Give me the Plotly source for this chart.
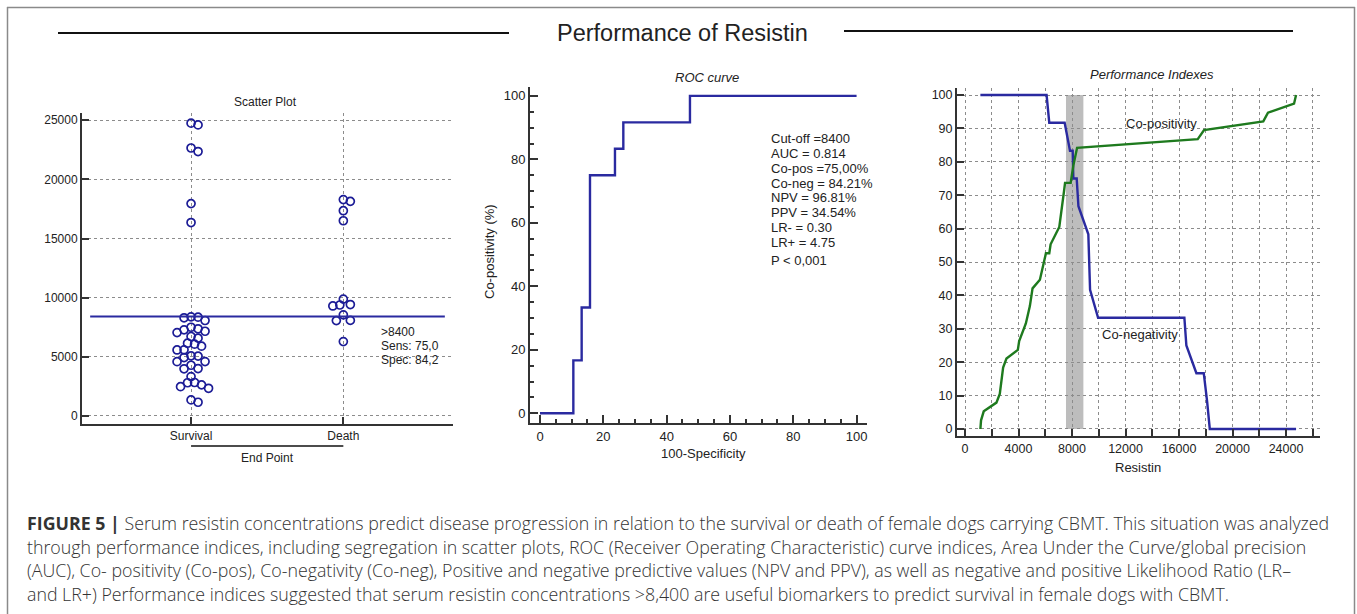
import plotly.graph_objects as go

W, H = 1357, 614

# ---------------- data ----------------
scatter_groups = ["Survival", "Death"]
survival_values = [24750, 24600, 22650, 22350, 17950, 16350,
                   8380, 8350, 8300, 8070, 7500, 7370, 7280, 7160, 7050,
                   6720, 6580, 6150, 6070, 5900, 5590, 5580, 5080, 5060,
                   4940, 4600, 4590, 4290, 4010, 3990, 3330, 2830, 2810,
                   2630, 2480, 2340, 1360, 1160]
death_values = [18290, 18140, 17350, 16500, 9880, 9420, 9380, 9300,
                8550, 8080, 8060, 6290]
cutoff = 8400
scatter_ticks = [0, 5000, 10000, 15000, 20000, 25000]
scatter_note = [">8400", "Sens: 75,0", "Spec: 84,2"]

roc_fpr = [0, 10.53, 13.16, 15.79, 23.68, 26.32, 47.37, 100]
roc_tpr = [0, 16.67, 33.33, 75.0, 83.33, 91.67, 100, 100]
roc_stats = ["Cut-off =8400", "AUC = 0.814", "Co-pos =75,00%", "Co-neg = 84.21%",
             "NPV = 96.81%", "PPV = 34.54%", "LR- = 0.30", "LR+ = 4.75", "P < 0,001"]

coneg_x = [1150, 6100, 6300, 7450, 7850, 8050, 8100, 8350, 8480, 9220, 9350,
           9950, 16400, 16550, 17300, 17850, 18100, 18300, 24750]
coneg_y = [100, 100, 91.7, 91.7, 83.3, 83.3, 75, 75, 66.7, 58.3, 41.7,
           33.3, 33.3, 25, 16.7, 16.7, 8.3, 0, 0]
copos_x = [1150, 1200, 1400, 2350, 2600, 2850, 3100, 3950, 4050, 4550, 4850,
           5050, 5600, 6050, 6300, 6400, 7050, 7250, 7400, 7480, 7900, 8100,
           8380, 17400, 17870, 22300, 22650, 24600, 24750]
copos_y = [0, 2.6, 5.3, 7.9, 10.5, 18.4, 21.1, 23.7, 26.3, 31.6, 36.8,
           42.1, 44.7, 52.6, 52.6, 55.3, 60.5, 65.8, 71.1, 73.7, 73.7, 78.9,
           84.2, 86.8, 89.5, 92.1, 94.7, 97.4, 100]
cutoff_band = [7550, 8850]

caption_lines = [
    "<b>FIGURE 5 |</b> Serum resistin concentrations predict disease progression in relation to the survival or death of female dogs carrying CBMT. This situation was analyzed",
    "through performance indices, including segregation in scatter plots, ROC (Receiver Operating Characteristic) curve indices, Area Under the Curve/global precision",
    "(AUC), Co- positivity (Co-pos), Co-negativity (Co-neg), Positive and negative predictive values (NPV and PPV), as well as negative and positive Likelihood Ratio (LR–",
    "and LR+) Performance indices suggested that serum resistin concentrations >8,400 are useful biomarkers to predict survival in female dogs with CBMT.",
]

# ---------------- helpers ----------------
def px(x):
    return x / W

def py(y):
    return 1 - y / H

FONT = "Liberation Sans, Arial, sans-serif"
CAPFONT = "Open Sans, Liberation Sans, Arial, sans-serif"
AX = "#333333"
GRID = "#8c8c8c"
BLUE = "#2a2aa0"
GREEN = "#1e7a1e"
MARK = "#1c1c96"

# scatter geometry (for beeswarm spacing)
SC_X0, SC_X1 = 82, 453
SC_Y0, SC_Y1 = 424, 112.5
SC_XR = [-0.716, 1.72]
SC_YR = [-677, 25650]
px_per_x = (SC_X1 - SC_X0) / (SC_XR[1] - SC_XR[0])
px_per_y = (SC_Y0 - SC_Y1) / (SC_YR[1] - SC_YR[0])


def beeswarm(values, center, step=3.5, diam=6.8):
    order = sorted(range(len(values)), key=lambda i: -values[i])
    placed = []
    xs = [0.0] * len(values)
    cands = [0]
    for k in range(1, 12):
        cands += [k, -k]
    for i in order:
        yv = values[i] * px_per_y
        for k in cands:
            xv = k * step
            if all((xv - a) ** 2 + (yv - b) ** 2 >= diam ** 2 for a, b in placed):
                break
        placed.append((xv, yv))
        xs[i] = center + xv / px_per_x
    return xs


fig = go.Figure()

# ---------------- scatter plot ----------------
for vals, c in ((survival_values, 0), (death_values, 1)):
    fig.add_trace(go.Scatter(
        x=beeswarm(vals, c), y=vals, mode="markers",
        marker=dict(symbol="circle-open", size=8, color=MARK, line=dict(width=1.7, color=MARK)),
        xaxis="x", yaxis="y", showlegend=False, hoverinfo="skip"))

# ---------------- ROC ----------------
fig.add_trace(go.Scatter(
    x=roc_fpr, y=roc_tpr, mode="lines", line=dict(color=BLUE, width=2.4, shape="hv"),
    xaxis="x2", yaxis="y2", showlegend=False, hoverinfo="skip"))

# ---------------- performance indexes ----------------
fig.add_trace(go.Scatter(
    x=coneg_x, y=coneg_y, mode="lines", line=dict(color=BLUE, width=2.4),
    xaxis="x3", yaxis="y3", showlegend=False, hoverinfo="skip"))
fig.add_trace(go.Scatter(
    x=copos_x, y=copos_y, mode="lines", line=dict(color=GREEN, width=2.4),
    xaxis="x3", yaxis="y3", showlegend=False, hoverinfo="skip"))

axis_common = dict(showline=True, linecolor=AX, linewidth=2, ticks="inside",
                   tickcolor=AX, tickwidth=2, zeroline=False, mirror=False,
                   tickformat="d")

def tf(size):
    return dict(family=FONT, size=size, color="#222")

fig.update_layout(
    width=W, height=H, margin=dict(l=0, r=0, t=0, b=0),
    paper_bgcolor="white", plot_bgcolor="white",
    xaxis=dict(domain=[px(SC_X0), px(SC_X1)], range=SC_XR, tickvals=[0, 1],
               ticktext=scatter_groups, ticklen=7, showgrid=True, gridcolor=GRID,
               griddash="dot", gridwidth=1, anchor="y", tickfont=tf(12), **axis_common),
    yaxis=dict(domain=[py(SC_Y0), py(SC_Y1)], range=SC_YR, tickvals=scatter_ticks,
               ticklen=7, showgrid=True, gridcolor=GRID, griddash="dot", gridwidth=1,
               anchor="x", tickfont=tf(12), **axis_common),
    xaxis2=dict(domain=[px(530), px(866.7)], range=[-3.16, 103.2], dtick=20, tick0=0,
                ticklen=8, showgrid=False, anchor="y2", tickfont=tf(13),
                minor=dict(dtick=5, ticks="inside", ticklen=4, tickcolor=AX, tickwidth=1.5),
                **axis_common),
    yaxis2=dict(domain=[py(423.3), py(86.7)], range=[-3.15, 102.9], dtick=20, tick0=0,
                ticklen=8, showgrid=False, anchor="x2", tickfont=tf(13),
                minor=dict(dtick=5, ticks="inside", ticklen=4, tickcolor=AX, tickwidth=1.5),
                **axis_common),
    xaxis3=dict(domain=[px(957), px(1320)], range=[-598, 26540], dtick=4000, tick0=0,
                ticklen=7, showgrid=True, gridcolor=GRID, griddash="dot", gridwidth=1,
                anchor="y3", tickfont=tf(12.5),
                minor=dict(dtick=2000, ticks="inside", ticklen=7, tickcolor=AX, tickwidth=2,
                           showgrid=True, gridcolor=GRID, griddash="dot", gridwidth=1),
                **axis_common),
    yaxis3=dict(domain=[py(436), py(88)], range=[-2.1, 102.1], dtick=10, tick0=0,
                ticklen=7, showgrid=True, gridcolor=GRID, griddash="dot", gridwidth=1,
                anchor="x3", tickfont=tf(12.5), **axis_common),
)

shapes = []
# outer frame
for (x0, y0, x1, y1) in [(7, 7.5, 1355, 7.5), (7.5, 7, 7.5, 640), (1354.5, 7, 1354.5, 640)]:
    shapes.append(dict(type="line", xref="paper", yref="paper", x0=px(x0), y0=py(y0),
                       x1=px(x1), y1=py(y1), line=dict(color="#8a8a8a", width=1.5)))
# title rules
shapes.append(dict(type="line", xref="paper", yref="paper", x0=px(58), x1=px(509),
                   y0=py(33), y1=py(33), line=dict(color="#111", width=2.2)))
shapes.append(dict(type="line", xref="paper", yref="paper", x0=px(844), x1=px(1293),
                   y0=py(31), y1=py(31), line=dict(color="#111", width=2.2)))
# cutoff line in scatter plot
shapes.append(dict(type="line", xref="x domain", yref="y", x0=0.022, x1=0.978,
                   y0=cutoff, y1=cutoff, line=dict(color=BLUE, width=2)))
# End Point bracket line
shapes.append(dict(type="line", xref="x", yref="paper", x0=0, x1=1,
                   y0=py(446), y1=py(446), line=dict(color="#111", width=1.5)))
# cut-off confidence band
shapes.append(dict(type="rect", xref="x3", yref="y3", x0=cutoff_band[0], x1=cutoff_band[1],
                   y0=0, y1=100, fillcolor="#bdbdbd", line=dict(width=0), layer="below"))
fig.update_layout(shapes=shapes)

ann = []

def txt(text, x, y, size=12, xanchor="center", color="#222", italic=False, angle=0,
        family=FONT, weight=None):
    f = dict(family=family, size=size, color=color, style="italic" if italic else "normal")
    if weight is not None:
        f["weight"] = weight
    ann.append(dict(text=text, x=px(x), y=py(y), xref="paper", yref="paper",
                    xanchor=xanchor, yanchor="middle", showarrow=False, textangle=angle,
                    font=f))

txt("Performance of Resistin", 682, 33, size=23.5)
txt("Scatter Plot", 265, 102, size=12)
txt("End Point", 267, 458, size=12)
for i, s in enumerate(scatter_note):
    txt(s, 379, 332 + 14 * i, size=12, xanchor="left")

txt("ROC curve", 707, 77, size=13, italic=True)
txt("100-Specificity", 703, 453, size=13)
txt("Co-positivity (%)", 490, 252, size=13, angle=-90)
roc_y = [138, 153, 168, 183, 198, 213, 228, 243, 260]
for s, yy in zip(roc_stats, roc_y):
    txt(s, 769, yy, size=13, xanchor="left")

txt("Performance Indexes", 1152, 74, size=13, italic=True)
txt("Resistin", 1138, 467, size=13)
txt("Co-positivity", 1161, 124, size=13)
txt("Co-negativity", 1140, 334, size=13)

for i, line in enumerate(caption_lines):
    txt(line, 25, 523 + 23.5 * i, size=17.8, xanchor="left", color="#333",
        family=CAPFONT, weight=300)

fig.update_layout(annotations=ann)

fig.write_html("out.html", config={"displayModeBar": False},
               post_script="document.body.style.margin='0';document.body.style.overflow='hidden';")
